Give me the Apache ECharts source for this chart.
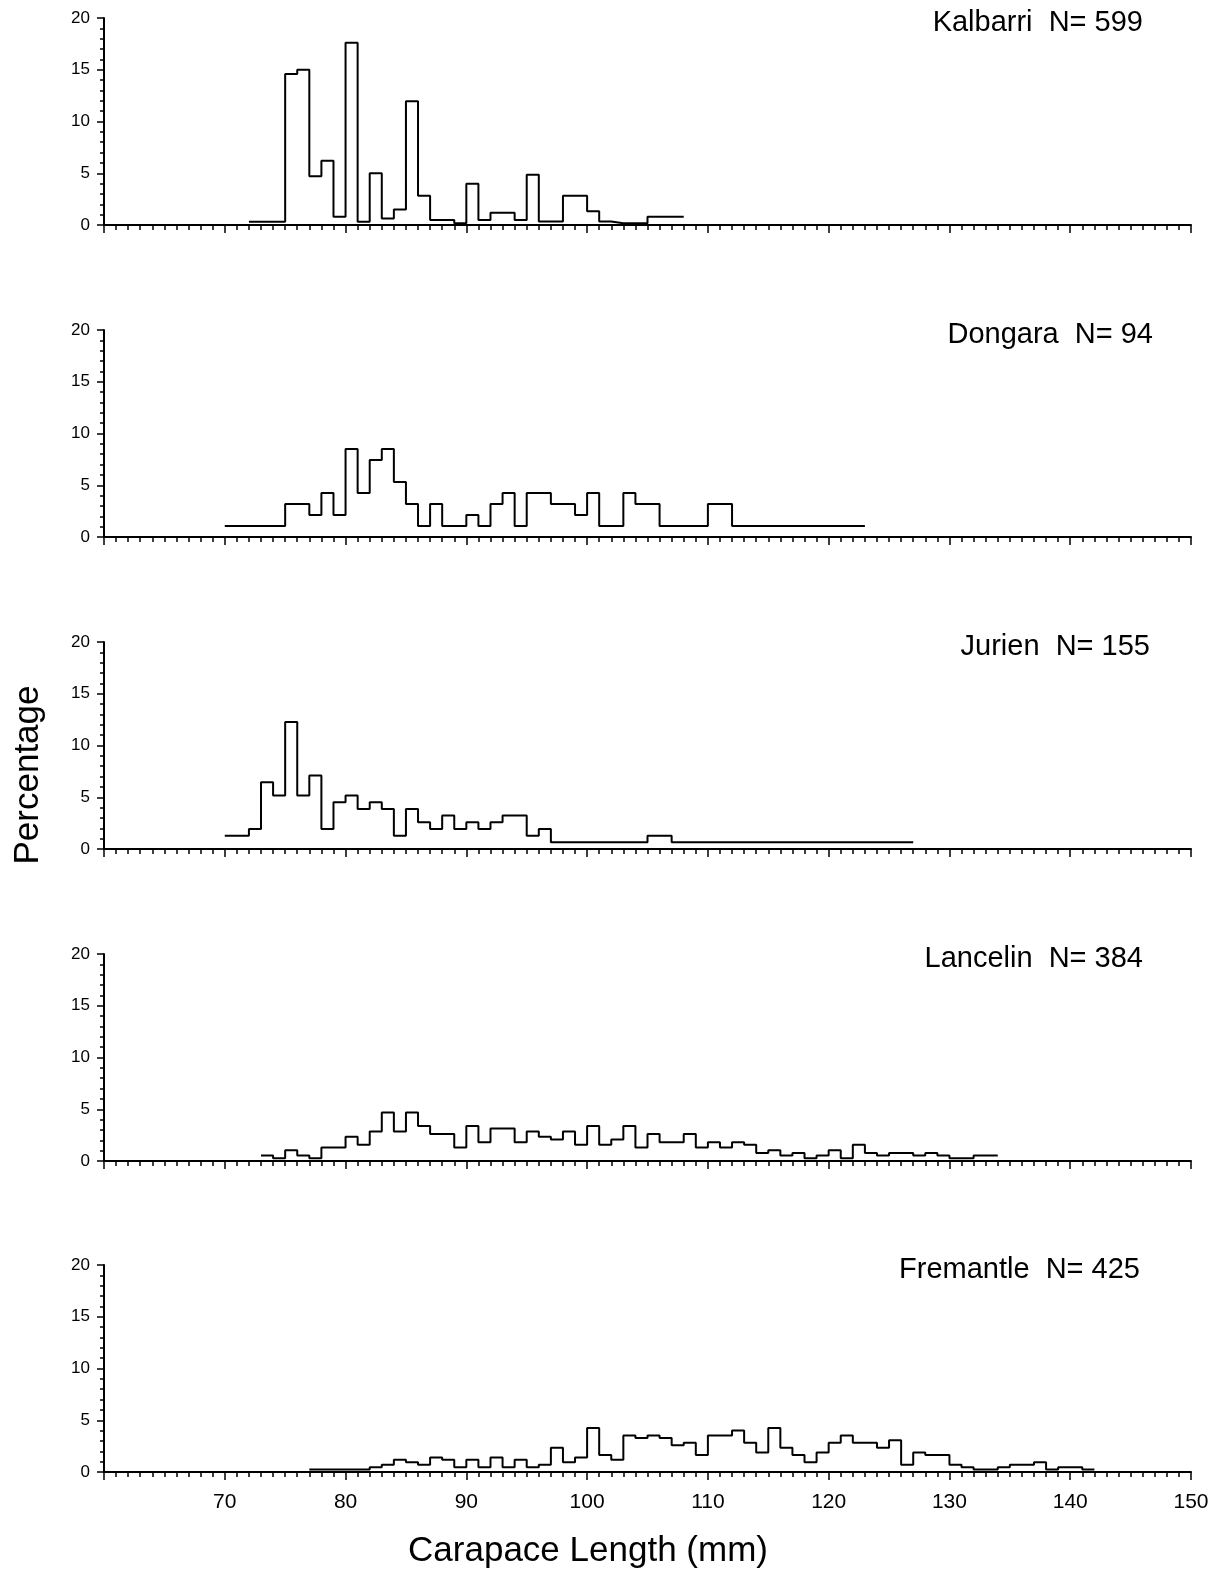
<!DOCTYPE html>
<html>
<head>
<meta charset="utf-8">
<script src="https://cdn.jsdelivr.net/npm/echarts@6/dist/echarts.min.js"></script>
<style>
  body { margin: 0; background: #fff; }
  #main { width: 1220px; height: 1575px; }
</style>
</head>
<body>
<div id="main"></div>
<script>
// sites and sample sizes
const siteNames = ['Kalbarri', 'Dongara', 'Jurien', 'Lancelin', 'Fremantle'];
const sampleSizes = [599, 94, 155, 384, 425];

// percentage per 1 mm bin, first bin starts at the *Start value
const kalbarriStart = 72;
const kalbarriPct = [0.32, 0.32, 0.32, 14.6, 15.0, 4.7, 6.2, 0.8, 17.6, 0.32,
  5.0, 0.64, 1.5, 11.95, 2.83, 0.48, 0.48, 0.16, 3.98, 0.48,
  1.19, 1.19, 0.48, 4.85, 0.35, 0.35, 2.83, 2.83, 1.32, 0.33,
  0.17, 0.17, 0.17, 0.8, 0.8, 0.8];

const dongaraStart = 70;
const dongaraPct = [1.06, 1.06, 1.06, 1.06, 1.06, 3.19, 3.19, 2.13, 4.26, 2.13,
  8.51, 4.26, 7.45, 8.51, 5.32, 3.19, 1.06, 3.19, 1.06, 1.06,
  2.13, 1.06, 3.19, 4.26, 1.06, 4.26, 4.26, 3.19, 3.19, 2.13,
  4.26, 1.06, 1.06, 4.26, 3.19, 3.19, 1.06, 1.06, 1.06, 1.06,
  3.19, 3.19, 1.06, 1.06, 1.06, 1.06, 1.06, 1.06, 1.06, 1.06,
  1.06, 1.06, 1.06];

const jurienStart = 70;
const jurienPct = [1.29, 1.29, 1.94, 6.45, 5.16, 12.26, 5.16, 7.1, 1.94, 4.52,
  5.16, 3.87, 4.52, 3.87, 1.29, 3.87, 2.58, 1.94, 3.23, 1.94,
  2.58, 1.94, 2.58, 3.23, 3.23, 1.29, 1.94, 0.65, 0.65, 0.65,
  0.65, 0.65, 0.65, 0.65, 0.65, 1.29, 1.29, 0.65, 0.65, 0.65,
  0.65, 0.65, 0.65, 0.65, 0.65, 0.65, 0.65, 0.65, 0.65, 0.65,
  0.65, 0.65, 0.65, 0.65, 0.65, 0.65, 0.65];

const lancelinStart = 73;
const lancelinPct = [0.52, 0.26, 1.04, 0.52, 0.26, 1.3, 1.3, 2.34, 1.56, 2.86,
  4.69, 2.86, 4.69, 3.39, 2.6, 2.6, 1.3, 3.39, 1.82, 3.13,
  3.13, 1.82, 2.86, 2.34, 2.08, 2.86, 1.56, 3.39, 1.56, 2.08,
  3.39, 1.3, 2.6, 1.82, 1.82, 2.6, 1.3, 1.82, 1.3, 1.82,
  1.56, 0.78, 1.04, 0.52, 0.78, 0.26, 0.52, 1.04, 0.26, 1.56,
  0.78, 0.52, 0.78, 0.78, 0.52, 0.78, 0.52, 0.26, 0.26, 0.52,
  0.52];

const fremantleStart = 77;
const fremantlePct = [0.24, 0.24, 0.24, 0.24, 0.24, 0.47, 0.71, 1.18, 0.94, 0.71,
  1.41, 1.18, 0.47, 1.18, 0.47, 1.41, 0.47, 1.18, 0.47, 0.71,
  2.35, 0.94, 1.41, 4.24, 1.65, 1.18, 3.53, 3.29, 3.53, 3.29,
  2.59, 2.82, 1.65, 3.53, 3.53, 4.0, 2.82, 1.88, 4.24, 2.35,
  1.65, 0.94, 1.88, 2.82, 3.53, 2.82, 2.82, 2.35, 3.06, 0.71,
  1.88, 1.65, 1.65, 0.71, 0.47, 0.24, 0.24, 0.47, 0.71, 0.71,
  0.94, 0.24, 0.47, 0.47, 0.24];

// axis ticks
const xMin = 60, xMax = 150, xStep = 10;
const yMin = 0, yMax = 20, yStep = 5;

const starts = [kalbarriStart, dongaraStart, jurienStart, lancelinStart, fremantleStart];
const pcts = [kalbarriPct, dongaraPct, jurienPct, lancelinPct, fremantlePct];

const font = '"Liberation Sans", Arial, Helvetica, sans-serif';
const gridTops = [18, 330, 642, 954, 1265];
const titleRight = [1143, 1153, 1150, 1143, 1140];

// bin edges -> step outline points
function outline(start, vals) {
  const pts = vals.map((v, i) => [start + i, v]);
  pts.push([start + vals.length, vals[vals.length - 1]]);
  return pts;
}

const grids = [], xAxes = [], yAxes = [], series = [], texts = [];
for (let i = 0; i < 5; i++) {
  grids.push({ left: 104, width: 1087, top: gridTops[i], height: 207 });
  xAxes.push({
    type: 'value', gridIndex: i, min: xMin, max: xMax, interval: xStep,
    axisLine: { show: true, onZero: false, lineStyle: { color: '#000', width: 2 } },
    axisTick: { show: true, length: 8, lineStyle: { color: '#000', width: 1.5 } },
    minorTick: { show: true, splitNumber: 10, length: 5, lineStyle: { color: '#000', width: 1.5 } },
    splitLine: { show: false },
    axisLabel: {
      show: i === 4, color: '#000', fontSize: 21, fontFamily: font, margin: 20,
      formatter: v => v === xMin ? '' : v
    }
  });
  yAxes.push({
    type: 'value', gridIndex: i, min: yMin, max: yMax, interval: yStep,
    axisLine: { show: true, lineStyle: { color: '#000', width: 2 } },
    axisTick: { show: true, length: 7, lineStyle: { color: '#000', width: 1.5 } },
    minorTick: { show: true, splitNumber: 5, length: 4, lineStyle: { color: '#000', width: 1.5 } },
    splitLine: { show: false },
    axisLabel: { color: '#000', fontSize: 17, fontFamily: font, margin: 14 }
  });
  series.push({
    type: 'line', xAxisIndex: i, yAxisIndex: i, step: 'end', symbol: 'none',
    lineStyle: { color: '#000', width: 2 },
    data: outline(starts[i], pcts[i])
  });
  texts.push({
    type: 'text', x: titleRight[i], y: gridTops[i] + 5,
    style: {
      text: siteNames[i] + '  N= ' + sampleSizes[i],
      font: '29px ' + font, fill: '#000',
      textAlign: 'right', textVerticalAlign: 'middle'
    }
  });
}

texts.push({
  type: 'text', x: 588, y: 1551,
  style: { text: 'Carapace Length (mm)', font: '35px ' + font, fill: '#000',
    textAlign: 'center', textVerticalAlign: 'middle' }
});
texts.push({
  type: 'text', x: 28, y: 775, rotation: Math.PI / 2,
  style: { text: 'Percentage', font: '35px ' + font, fill: '#000',
    textAlign: 'center', textVerticalAlign: 'middle' }
});

const myChart = echarts.init(document.getElementById('main'));
const option = {
  animation: false,
  backgroundColor: '#fff',
  grid: grids,
  xAxis: xAxes,
  yAxis: yAxes,
  series: series,
  graphic: texts
};
myChart.setOption(option);
</script>
</body>
</html>
